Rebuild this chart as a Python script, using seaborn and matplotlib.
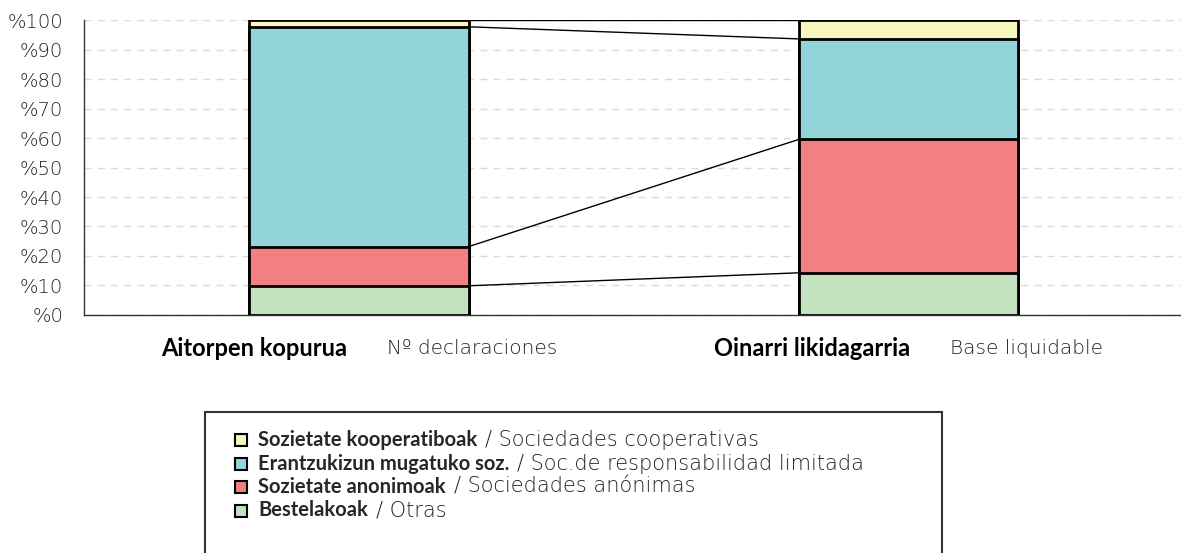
import numpy as np
import pandas as pd
import matplotlib
matplotlib.use("Agg")
import matplotlib.pyplot as plt
import matplotlib.patches as mpatches
from matplotlib.ticker import FuncFormatter
import seaborn as sns

# Datos (porcentajes de cada tipo de sociedad)
categorias = ["Aitorpen kopurua", "Oinarri likidagarria"]
categorias_es = ["Nº declaraciones", "Base liquidable"]
tipos_eu = ["Bestelakoak", "Sozietate anonimoak", "Erantzukizun mugatuko soz.", "Sozietate kooperatiboak"]
tipos_es = ["Otras", "Sociedades anónimas", "Soc.de responsabilidad limitada", "Sociedades cooperativas"]
bestelakoak = [9.9, 14.3]
anonimoak = [13.3, 45.2]
mugatuak = [74.5, 34.1]
kooperatiboak = [2.3, 6.4]
colores = ["#c3e2c0", "#f28083", "#93d4da", "#f7f7bf"]

sns.set_style("white")
plt.rcParams["font.family"] = ["Lato", "DejaVu Sans"]
fuente_fina = ["DejaVu Sans"]
gris = "#222222"

df = pd.DataFrame({"categoria": categorias,
                   tipos_eu[0]: bestelakoak, tipos_eu[1]: anonimoak,
                   tipos_eu[2]: mugatuak, tipos_eu[3]: kooperatiboak})
acum = df[tipos_eu].cumsum(axis=1)

fig = plt.figure(figsize=(11.81, 5.53), dpi=100)
ax = fig.add_axes([0.0711, 0.4304, 1.0 - 0.0711 + 0.002, 0.9638 - 0.4304])

ancho = 0.4
# barras apiladas: se dibuja primero la acumulada mayor
for tipo, color in reversed(list(zip(tipos_eu, colores))):
    sns.barplot(x=df["categoria"], y=acum[tipo], color=color, width=ancho,
                edgecolor="black", linewidth=2, ax=ax, zorder=3, saturation=1)

# líneas de unión entre barras
for tipo in tipos_eu:
    ax.plot([0 + ancho / 2, 1 - ancho / 2], [acum[tipo][0], acum[tipo][1]],
            color="black", linewidth=1, zorder=2)

ax.set_xlim(-0.5, 1.5)
ax.set_ylim(0, 100)
ax.set_yticks(np.arange(0, 101, 10))
ax.yaxis.set_major_formatter(FuncFormatter(lambda v, p: f"%{v:.0f}"))
ax.yaxis.grid(True, linestyle=(0, (5, 4.5)), color="#d9d9d9", linewidth=1, zorder=0)
ax.set_axisbelow(True)
ax.set_xticks([0, 1])
ax.set_xticklabels(["", ""])
ax.tick_params(axis="x", which="major", length=0)
ax.set_xticks([-0.5, 0.5, 1.5], minor=True)
ax.tick_params(axis="x", which="minor", length=6, width=1, color="#333333", direction="out")
ax.tick_params(axis="y", length=5, width=1, color="#333333", direction="out",
               labelsize=14, labelcolor=gris, pad=10)
for lab in ax.get_yticklabels():
    lab.set_family(fuente_fina)
    lab.set_fontweight("light")
ax.set_xlabel("")
ax.set_ylabel("")
for s in ["top", "right"]:
    ax.spines[s].set_visible(False)
for s in ["left", "bottom"]:
    ax.spines[s].set_color("#333333")
    ax.spines[s].set_linewidth(1)

# etiquetas de categoría (negrita + fina)
fig.canvas.draw()
r = fig.canvas.get_renderer()
sep = 40
px2pt = 72 / fig.dpi
for i, (eu, es) in enumerate(zip(categorias, categorias_es)):
    t1 = ax.annotate(eu, xy=(i, 0), xycoords=("data", "axes fraction"), xytext=(0, -24),
                     textcoords="offset points", ha="left", va="center",
                     fontsize=17, fontweight="bold", color="black")
    t2 = ax.annotate(es, xy=(i, 0), xycoords=("data", "axes fraction"), xytext=(0, -24),
                     textcoords="offset points", ha="left", va="center",
                     fontsize=14.5, fontweight="light", family=fuente_fina, color=gris)
    w1 = t1.get_window_extent(r).width
    w2 = t2.get_window_extent(r).width
    total = w1 + sep + w2
    t1.set_position((-total / 2 * px2pt, -24))
    t2.set_position(((-total / 2 + w1 + sep) * px2pt, -24))

# leyenda manual
W, H = 1181, 553
caja = mpatches.Rectangle((205 / W, -0.02), (942 - 205) / W, 0.02 + 1 - 412 / H,
                          transform=fig.transFigure, fill=False, edgecolor="#333333",
                          linewidth=1.5, clip_on=False)
fig.patches.append(caja)
filas_y = [440, 463.5, 487, 510.5]
orden = [3, 2, 1, 0]
for y, k in zip(filas_y, orden):
    yf = 1 - y / H
    m = 12
    fig.patches.append(mpatches.Rectangle(((241 - m / 2) / W, yf - (m / 2) / H), m / W, m / H,
                                          transform=fig.transFigure, facecolor=colores[k],
                                          edgecolor="black", linewidth=1.5))
    b = fig.text(258 / W, yf, tipos_eu[k], fontsize=14.5, fontweight="bold", va="center", ha="left")
    wb = b.get_window_extent(r).width
    fig.text((258 + wb + 8) / W, yf, "/ " + tipos_es[k], fontsize=15, fontweight="light",
             family=fuente_fina, va="center", ha="left", color=gris)

fig.savefig("out.png", dpi=100)
